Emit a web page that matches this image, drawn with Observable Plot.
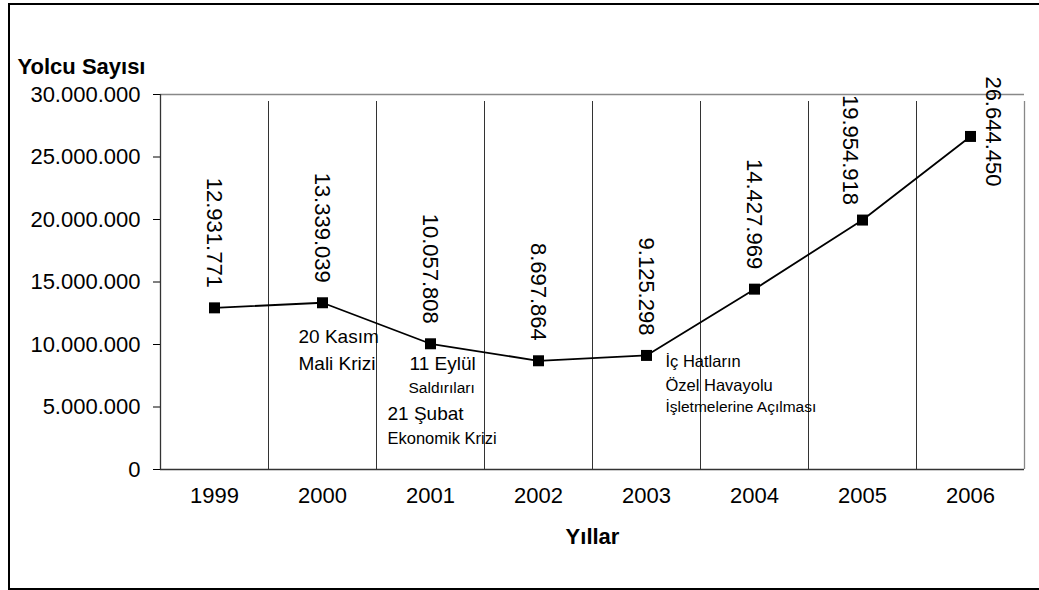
<!DOCTYPE html>
<html>
<head>
<meta charset="utf-8">
<script src="https://cdn.jsdelivr.net/npm/d3@7"></script>
<script src="https://cdn.jsdelivr.net/npm/@observablehq/plot@0.6"></script>
<style>
  html, body { margin: 0; padding: 0; background: #fff; }
  #wrap { position: relative; width: 1039px; height: 590px; overflow: hidden; }
  #frame { position: absolute; left: 8px; top: 3px; width: 1060px; height: 587px; border: 2px solid #000; box-sizing: border-box; pointer-events: none; }
  #chart svg { display: block; }
</style>
</head>
<body>
<div id="wrap"><div id="chart"></div><div id="frame"></div></div>
<script>
// ---- data ----
const years = ["1999", "2000", "2001", "2002", "2003", "2004", "2005", "2006"];
const passengers = [12931771, 13339039, 10057808, 8697864, 9125298, 14427969, 19954918, 26644450];
const yTicks = [0, 5000000, 10000000, 15000000, 20000000, 25000000, 30000000];
const yTitle = "Yolcu Sayısı";
const xTitle = "Yıllar";
const kasimNote = ["20 Kasım", "Mali Krizi"];
const eylulNote = ["11 Eylül", "Saldırıları"];
const subatNote = ["21 Şubat", "Ekonomik Krizi"];
const icHatNote = ["İç Hatların", "Özel Havayolu", "İşletmelerine Açılması"];

// ---- helpers ----
const FONT = "'Liberation Sans', Arial, sans-serif";
const trFormat = d3.formatLocale({decimal: ",", thousands: ".", grouping: [3], currency: ["", ""]}).format(",d");
const data = years.map((year, i) => ({year, value: passengers[i], i}));
const pos = d => d.i + 0.5;                 // band centre on the index scale
const boundaries = d3.range(0, years.length + 1);

function noteLine(text, yearIdx, dx, dy, size) {
  return Plot.text([text], {
    x: () => data[yearIdx].i + 0.5,
    y: () => data[yearIdx].value,
    text: d => d,
    dx, dy,
    textAnchor: "start",
    lineAnchor: "middle",
    fontSize: size,
    fill: "#000",
    fontFamily: FONT
  });
}

const valueLabel = (rows, opts) => Plot.text(rows, {
  x: pos, y: "value", text: d => trFormat(d.value),
  rotate: 90, lineAnchor: "middle", fontSize: 22, fill: "#000", ...opts
});

const chart = Plot.plot({
  width: 1039,
  height: 590,
  marginLeft: 160,
  marginRight: 15,
  marginTop: 94,
  marginBottom: 121,
  style: {fontFamily: FONT, fontSize: "22px", color: "#000", background: "transparent", overflow: "visible"},
  x: {type: "linear", domain: [0, years.length], axis: null},
  y: {
    domain: [0, 30000000],
    ticks: yTicks,
    tickFormat: trFormat,
    tickSize: 7,
    tickPadding: 13,
    label: null
  },
  marks: [
    // inner grid (category boundaries), extending below the axis as tick marks
    Plot.ruleX(boundaries.slice(0, -1), {x: d => d, y1: 0, y2: 30000000, insetBottom: -7, stroke: "#333", strokeWidth: 1}),
    Plot.ruleX(boundaries.slice(-1), {x: d => d, y1: 0, y2: 30000000, insetBottom: -7, stroke: "#888", strokeWidth: 1.3}),
    Plot.ruleY([30000000], {x1: 0, x2: years.length, stroke: "#888", strokeWidth: 1.3}),
    Plot.ruleY([0], {x1: 0, x2: years.length, stroke: "#333", strokeWidth: 1.3}),
    Plot.ruleX([0], {y1: 0, y2: 30000000, stroke: "#333", strokeWidth: 1.3}),
    // line + markers
    Plot.line(data, {x: pos, y: "value", stroke: "#000", strokeWidth: 1.8}),
    Plot.dot(data, {x: pos, y: "value", symbol: "square", r: 6.2, fill: "#000", stroke: "none"}),
    // value labels (rotated)
    valueLabel(data.slice(0, 6), {textAnchor: "end", dy: -20}),
    valueLabel(data.slice(6, 7), {textAnchor: "end", dx: -12, dy: -15}),
    valueLabel(data.slice(7), {textAnchor: "middle", dx: 23, dy: -5}),
    // year labels
    Plot.text(data, {x: pos, text: "year", frameAnchor: "bottom", dy: 33, fontSize: 22, fill: "#000"}),
    // axis titles
    Plot.text([xTitle], {frameAnchor: "bottom", dy: 74, fontSize: 22, fontWeight: "bold", fill: "#000"}),
    Plot.text([yTitle], {frameAnchor: "top-left", textAnchor: "start", dx: -143, dy: -36, fontSize: 22, fontWeight: "bold", fill: "#000"}),
    // annotations
    noteLine(kasimNote[0], 1, -24, 34, 19),
    noteLine(kasimNote[1], 1, -24, 61, 19),
    noteLine(eylulNote[0], 2, -21, 20, 19),
    noteLine(eylulNote[1], 2, -22, 44, 15.5),
    noteLine(subatNote[0], 2, -43, 70, 19),
    noteLine(subatNote[1], 2, -43, 95, 16.5),
    noteLine(icHatNote[0], 4, 19, 6, 16.5),
    noteLine(icHatNote[1], 4, 19, 30, 16.5),
    noteLine(icHatNote[2], 4, 19, 52, 15.5)
  ]
});
document.getElementById("chart").appendChild(chart);
</script>
</body>
</html>
